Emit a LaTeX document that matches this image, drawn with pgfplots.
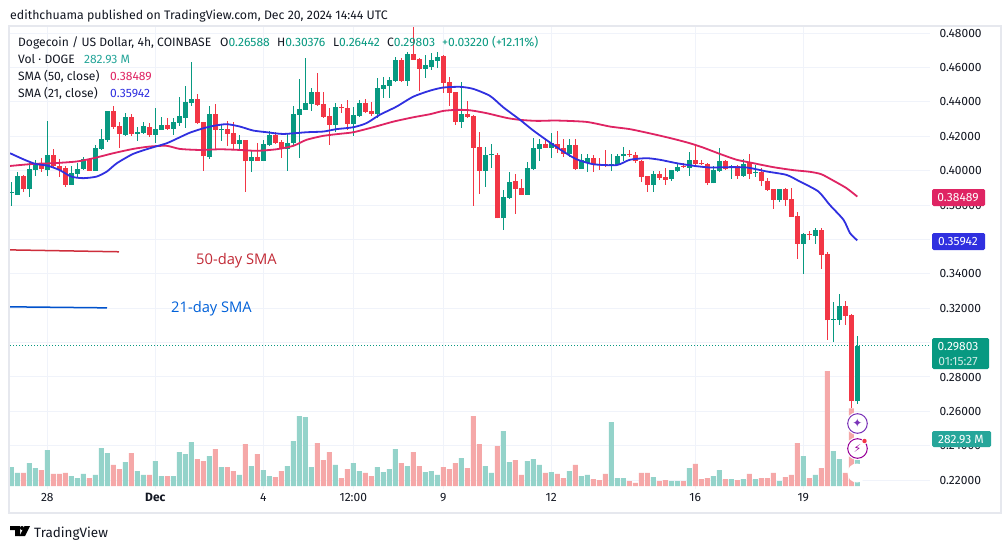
\documentclass[border=0pt]{standalone}
\usepackage{pgfplots}
\usepackage{pgfplotstable}
\usepackage{fontspec}
\pgfplotsset{compat=1.18}
\setmainfont{Fira Sans}
\newfontfamily\symfont{DejaVu Sans}
\newfontfamily\notefont{Open Sans}

\definecolor{cgreen}{HTML}{089981}
\definecolor{cred}{HTML}{F23645}
\definecolor{vgreen}{HTML}{94D3CA}
\definecolor{vred}{HTML}{F5A8A8}
\definecolor{smaf}{HTML}{DF2463}
\definecolor{smat}{HTML}{3030E0}
\definecolor{gridc}{HTML}{F0F3FA}
\definecolor{framec}{HTML}{E6E8EE}
\definecolor{inkc}{HTML}{131722}
\definecolor{legteal}{HTML}{26A69A}

% i low bodybottom bodytop high volume(M)
\pgfplotstableread{
i l b t h v
0 0.3795 0.3869 0.3875 0.3931 207
1 0.3859 0.3859 0.3969 0.3991 142
3 0.3849 0.3894 0.4010 0.4043 250
4 0.3969 0.4004 0.4043 0.4062 196
6 0.3969 0.4004 0.4091 0.4289 392
10 0.3917 0.3917 0.3985 0.4029 109
11 0.3956 0.3981 0.4010 0.4043 87
12 0.4004 0.4010 0.4070 0.4078 131
14 0.3998 0.3998 0.4132 0.4151 120
15 0.4120 0.4126 0.4184 0.4244 414
16 0.4169 0.4178 0.4347 0.4347 359
19 0.4202 0.4209 0.4312 0.4333 261
21 0.4175 0.4215 0.4225 0.4256 163
22 0.4217 0.4221 0.4260 0.4285 120
24 0.4163 0.4209 0.4240 0.4362 272
25 0.4237 0.4237 0.4266 0.4310 109
27 0.4207 0.4244 0.4283 0.4304 109
28 0.4262 0.4277 0.4318 0.4430 370
29 0.4250 0.4306 0.4399 0.4492 348
30 0.4376 0.4392 0.4417 0.4632 479
33 0.4066 0.4078 0.4330 0.4376 327
35 0.4173 0.4237 0.4241 0.4271 207
38 0.4116 0.4155 0.4178 0.4207 120
40 0.3994 0.4053 0.4080 0.4120 218
42 0.4056 0.4056 0.4155 0.4178 174
43 0.4146 0.4147 0.4207 0.4231 109
46 0.4000 0.4128 0.4159 0.4217 218
47 0.4150 0.4159 0.4330 0.4376 490
48 0.4076 0.4324 0.4359 0.4531 762
49 0.4353 0.4353 0.4392 0.4655 751
50 0.4349 0.4388 0.4458 0.4479 207
54 0.4227 0.4266 0.4368 0.4392 229
57 0.4204 0.4272 0.4322 0.4368 250
58 0.4314 0.4318 0.4392 0.4411 163
61 0.4305 0.4330 0.4479 0.4537 207
62 0.4421 0.4475 0.4498 0.4547 152
63 0.4421 0.4494 0.4527 0.4547 185
64 0.4516 0.4521 0.4644 0.4659 403
66 0.4494 0.4521 0.4678 0.4688 218
69 0.4537 0.4593 0.4615 0.4673 152
70 0.4585 0.4603 0.4644 0.4682 163
71 0.4595 0.4640 0.4661 0.4692 120
75 0.4250 0.4285 0.4330 0.4516 305
79 0.3902 0.4000 0.4092 0.4140 218
80 0.4014 0.4088 0.4094 0.4155 142
82 0.3652 0.3722 0.3846 0.3888 599
83 0.3838 0.3842 0.3933 0.3993 261
86 0.3859 0.3859 0.4016 0.4051 272
87 0.4004 0.4010 0.4132 0.4188 294
88 0.4053 0.4128 0.4155 0.4186 229
90 0.4072 0.4132 0.4159 0.4217 152
93 0.4078 0.4099 0.4150 0.4183 163
95 0.4010 0.4010 0.4059 0.4097 109
96 0.3989 0.4047 0.4074 0.4097 120
100 0.3995 0.4034 0.4038 0.4096 697
101 0.4030 0.4030 0.4086 0.4096 87
102 0.4053 0.4082 0.4097 0.4136 87
107 0.3873 0.3917 0.3981 0.3997 98
110 0.3942 0.3952 0.4001 0.4004 54
111 0.3989 0.3995 0.4022 0.4043 54
113 0.3971 0.4016 0.4063 0.4109 196
117 0.3925 0.3925 0.4001 0.4024 109
118 0.3991 0.3995 0.4057 0.4130 174
120 0.3952 0.4022 0.4028 0.4034 76
122 0.3970 0.3971 0.4039 0.4066 76
124 0.3960 0.3985 0.3991 0.4034 76
128 0.3820 0.3830 0.3892 0.3894 54
132 0.3400 0.3574 0.3633 0.3636 327
134 0.3574 0.3621 0.3656 0.3666 120
137 0.3001 0.3133 0.3139 0.3234 381
138 0.3104 0.3133 0.3214 0.3284 294
141 0.26442 0.26588 0.29803 0.30376 283
}\upc

\pgfplotstableread{
i l b t h v
2 0.3878 0.3892 0.3969 0.3975 142
5 0.3994 0.4008 0.4043 0.4072 174
7 0.4014 0.4024 0.4091 0.4126 131
8 0.3965 0.4004 0.4027 0.4066 131
9 0.3907 0.3917 0.4014 0.4029 142
13 0.3998 0.3998 0.4070 0.4070 87
17 0.4240 0.4254 0.4347 0.4376 229
18 0.4130 0.4213 0.4260 0.4285 185
20 0.4202 0.4213 0.4312 0.4330 359
23 0.4198 0.4206 0.4254 0.4279 120
26 0.4237 0.4242 0.4266 0.4304 109
31 0.4271 0.4275 0.4417 0.4446 294
32 0.3998 0.4082 0.4281 0.4285 272
34 0.4120 0.4238 0.4330 0.4388 403
36 0.4144 0.4213 0.4240 0.4291 207
37 0.4120 0.4155 0.4217 0.4285 163
39 0.3878 0.4053 0.4178 0.4178 457
41 0.4056 0.4056 0.4080 0.4163 348
44 0.4155 0.4159 0.4207 0.4227 98
45 0.4072 0.4124 0.4167 0.4178 163
51 0.4376 0.4382 0.4458 0.4566 468
52 0.4308 0.4312 0.4388 0.4458 283
53 0.4150 0.4266 0.4318 0.4363 370
55 0.4337 0.4365 0.4369 0.4388 87
56 0.4237 0.4272 0.4365 0.4411 185
59 0.4339 0.4343 0.4392 0.4415 142
60 0.4318 0.4330 0.4347 0.4401 109
65 0.4516 0.4521 0.4644 0.4653 250
67 0.4644 0.4644 0.4678 0.4833 370
68 0.4460 0.4593 0.4649 0.4653 218
72 0.4450 0.4512 0.4667 0.4673 207
73 0.4376 0.4454 0.4516 0.4543 185
74 0.4266 0.4285 0.4458 0.4458 250
76 0.4310 0.4314 0.4330 0.4405 196
77 0.3795 0.4134 0.4318 0.4324 762
78 0.3865 0.4000 0.4138 0.4223 457
81 0.3722 0.3722 0.4092 0.4101 436
84 0.3749 0.3894 0.3939 0.3981 283
85 0.3859 0.3859 0.3900 0.3950 120
89 0.4132 0.4132 0.4155 0.4183 142
91 0.4101 0.4126 0.4155 0.4233 131
92 0.4078 0.4099 0.4130 0.4183 87
94 0.4004 0.4010 0.4150 0.4183 229
97 0.3993 0.4037 0.4074 0.4091 76
98 0.4004 0.4034 0.4039 0.4074 65
99 0.4020 0.4032 0.4037 0.4121 131
103 0.4078 0.4088 0.4099 0.4117 54
104 0.4047 0.4053 0.4091 0.4107 33
105 0.3931 0.3964 0.4057 0.4059 142
106 0.3873 0.3919 0.3970 0.3970 142
108 0.3946 0.3958 0.3981 0.3995 54
109 0.3917 0.3948 0.3964 0.4014 65
112 0.4014 0.4022 0.4028 0.4043 54
114 0.4034 0.4037 0.4063 0.4144 240
115 0.4030 0.4037 0.4043 0.4059 76
116 0.3917 0.3925 0.4039 0.4043 87
119 0.4001 0.4010 0.4057 0.4063 76
121 0.3952 0.3970 0.4028 0.4032 65
123 0.3952 0.3983 0.4043 0.4097 131
125 0.3908 0.3937 0.3989 0.4014 87
126 0.3884 0.3888 0.3941 0.3956 87
127 0.3778 0.3830 0.3892 0.3894 142
129 0.3795 0.3830 0.3894 0.3898 98
130 0.3733 0.3733 0.3836 0.3898 120
131 0.3487 0.3576 0.3737 0.3758 468
133 0.3598 0.3625 0.3633 0.3646 87
135 0.3429 0.3511 0.3656 0.3666 196
136 0.3017 0.3129 0.3516 0.3526 1252
139 0.3104 0.3156 0.3214 0.3243 142
140 0.2621 0.2659 0.3162 0.3166 846
}\dnc

\pgfplotsset{
  pane/.style={
    anchor=south west, scale only axis, width=920pt,
    xmin=-0.2167, xmax=153.12,
  },
  bodybar/.style={draw=none, mark=none, error bars/.cd, y dir=plus, y explicit, error mark=none,
    error bar style={line width=4.8pt, draw=#1}},
  wickbar/.style={draw=none, mark=none, error bars/.cd, y dir=both, y explicit, error mark=none,
    error bar style={line width=1pt, draw=#1}},
}

\begin{document}
\begin{tikzpicture}[x=1pt,y=-1pt]
\path[use as bounding box, fill=white] (0,0) rectangle (1005,549);
\draw[framec, line width=2pt] (9,26) rectangle (1001,513);

% grid, labels, price line and the hand drawn notes
\begin{axis}[pane, at={(10pt,-489pt)}, height=462pt,
  ymin=0.21488, ymax=0.48349,
  axis line style={draw=none}, tick style={draw=none},
  grid=major, grid style={gridc, line width=1pt},
  xtick={6,24,42,57,72,90,114,132},
  xticklabels={28,\textbf{Dec},4,12:00,9,12,16,19},
  ytick={0.22,0.24,0.26,0.28,0.30,0.32,0.34,0.36,0.38,0.40,0.42,0.44,0.46,0.48},
  yticklabels={0.22000,0.24000,0.26000,0.28000,,0.32000,0.34000,0.36000,0.38000,0.40000,0.42000,0.44000,0.46000,0.48000},
  ymajorgrids=true, yticklabel pos=right,
  yticklabel style={anchor=west, xshift=6pt, font=\fontsize{12}{12}\selectfont, text=inkc},
  xticklabel style={font=\fontsize{12}{12}\selectfont, text=inkc, yshift=-1pt},
]
\addplot[cgreen, line width=1pt, dotted, forget plot] coordinates {(-0.2167,0.29803) (153.12,0.29803)};
\addplot[draw=cred!85!black, line width=1.5pt] coordinates {(-0.2167,0.3539) (17.95,0.3528)};
\addplot[draw=blue!60!cyan!80!black, line width=1.5pt] coordinates {(-0.2167,0.3208) (15.95,0.3202)};
\end{axis}

% volume pane: 10.9 M per pixel
\begin{axis}[pane, at={(10pt,-486pt)}, height=200pt, ymin=0, ymax=2180, hide axis]
\addplot[ybar, bar width=5pt, bar shift=0pt, draw=none, fill=vgreen] table[x=i,y=v] {\upc};
\addplot[ybar, bar width=5pt, bar shift=0pt, draw=none, fill=vred] table[x=i,y=v] {\dnc};
\end{axis}

% candles and moving averages
\begin{axis}[pane, at={(10pt,-489pt)}, height=462pt, ymin=0.21488, ymax=0.48349, hide axis]
\addplot[wickbar=cgreen] table[x=i,y=b,y error plus expr=\thisrow{h}-\thisrow{b},y error minus expr=\thisrow{b}-\thisrow{l}] {\upc};
\addplot[bodybar=cgreen] table[x=i,y=b,y error plus expr=\thisrow{t}-\thisrow{b}] {\upc};
\addplot[wickbar=cred] table[x=i,y=b,y error plus expr=\thisrow{h}-\thisrow{b},y error minus expr=\thisrow{b}-\thisrow{l}] {\dnc};
\addplot[bodybar=cred] table[x=i,y=b,y error plus expr=\thisrow{t}-\thisrow{b}] {\dnc};
% SMA 50
\addplot[smaf, line width=1.8pt, smooth, tension=0.4] coordinates {
(-0.2,0.4027) (3.7,0.4039) (7,0.4043) (10.9,0.4053) (13.7,0.4072) (17,0.4101) (20.3,0.4126)
(23.1,0.4140) (25.9,0.4144) (28.1,0.4126) (31.4,0.4120) (34.8,0.4124) (38.1,0.4120) (40.9,0.4115)
(44.2,0.4124) (47,0.4144) (49.2,0.4179) (52,0.4202) (54.8,0.4214) (57,0.4223) (60.3,0.4252)
(63.7,0.4285) (67,0.4310) (69.8,0.4328) (72,0.4347) (74.2,0.4353) (76.4,0.4351) (79.2,0.4334)
(82.6,0.4306) (84.8,0.4295) (87.6,0.4289) (90.9,0.4291) (95.9,0.4283) (99.8,0.4256) (103.1,0.4241)
(107,0.4212) (110.3,0.4185) (113.1,0.4159) (115.3,0.4134) (118.1,0.4097) (120.9,0.4063)
(123.7,0.4043) (127,0.4020) (130.3,0.4003) (133.1,0.3993) (135,0.3979) (137,0.3942) (139.2,0.3898)
(141,0.38489)};
% SMA 21
\addplot[smat, line width=1.8pt, smooth, tension=0.4] coordinates {
(-0.2,0.4101) (2,0.4066) (4,0.4039) (6,0.4029) (8,0.4004) (10,0.3965) (12,0.3956) (14.2,0.3965)
(15.9,0.3994) (17.6,0.4043) (20.3,0.4097) (23.1,0.4130) (25.9,0.4159) (28.1,0.4194) (29.8,0.4221)
(32,0.4246) (33.7,0.4260) (35.9,0.4270) (38.1,0.4256) (40.3,0.4233) (42.6,0.4223) (45.3,0.4213)
(49.2,0.4223) (52,0.4227) (54.2,0.4241) (57,0.4252) (59.2,0.4276) (61.4,0.4324) (64.2,0.4372)
(67,0.4430) (69.8,0.4465) (72,0.4483) (74.8,0.4487) (77,0.4475) (79.8,0.4434) (82,0.4368)
(84.8,0.4295) (87,0.4233) (89.8,0.4163) (92,0.4111) (94.2,0.4066) (97,0.4037) (100.9,0.4032)
(103.1,0.4063) (105.9,0.4072) (108.1,0.4063) (110.9,0.4043) (113.7,0.4028) (116.4,0.4018)
(119.2,0.4020) (122.6,0.4018) (125.9,0.3995) (129.2,0.3975) (131.4,0.3937) (134.5,0.3879)
(136.4,0.3801) (138.7,0.3714) (139.8,0.3636) (141,0.35942)};
\end{axis}

% texts above the panes
\begin{scope}[every node/.style={inner sep=0pt, anchor=base west, text=inkc, font=\fontsize{12.1}{12.1}\selectfont}]
\node[font=\fontsize{12.35}{12.35}\selectfont] at (10,19) {edithchuama published on TradingView.com, Dec 20, 2024 14:44 UTC};
\node at (18,46) {Dogecoin / US Dollar, 4h, COINBASE};
\node at (220,46) {O\textcolor{cgreen}{0.26588}};
\node at (277,46) {H\textcolor{cgreen}{0.30376}};
\node at (333,46) {L\textcolor{cgreen}{0.26442}};
\node at (387,46) {C\textcolor{cgreen}{0.29803}};
\node at (442,46) {\textcolor{cgreen}{+0.03220 (+12.11\%)}};
\node at (18,63) {Vol · DOGE};
\node at (84,63) {\textcolor{legteal}{282.93 M}};
\node at (18,80) {SMA (50, close)};
\node at (110,80) {\textcolor{smaf}{0.38489}};
\node at (18,97) {SMA (21, close)};
\node at (110,97) {\textcolor{smat}{0.35942}};
\node[font=\fontsize{13.5}{13.5}\selectfont] at (34,537) {TradingView};
\end{scope}

\node[inner sep=0pt, anchor=west, text=cred!80!black, font=\notefont\fontsize{14.7}{14.7}\selectfont] at (196,261) {50-day SMA};
\node[inner sep=0pt, anchor=west, text=blue!55!cyan!85!black, font=\notefont\fontsize{14.7}{14.7}\selectfont] at (171,308.5) {21-day SMA};

% price tags
\begin{scope}[every node/.style={inner sep=0pt, text=white, font=\fontsize{12}{14}\selectfont}]
\fill[smaf, rounded corners=1.5pt] (932,189) rectangle (985,206);
\node at (958,197.5) {0.38489};
\fill[smat, rounded corners=1.5pt] (932,233) rectangle (985,250);
\node at (958,241.5) {0.35942};
\fill[cgreen, rounded corners=1.5pt] (932,338) rectangle (989,369);
\node at (958,347) {0.29803};
\node at (958,361) {\textcolor{white!80!cgreen}{01:15:27}};
\fill[legteal, rounded corners=1.5pt] (932,431) rectangle (991,447);
\node at (961,439) {282.93 M};
\end{scope}

% chart buttons
\fill[white] (857,473) circle (9.5);
\fill[white] (857.5,423.5) circle (11.5);
\fill[white] (857.5,448.5) circle (11.5);
\draw[violet!70!blue!80!white, line width=1pt] (857.5,423.5) circle (9.8);
\node[inner sep=0pt, text=violet!70!blue!80!white, font=\symfont\fontsize{12}{12}\selectfont] at (857.5,423.5) {✦};
\draw[violet!80!magenta, line width=1pt] (857.5,448.5) circle (9.8);
\node[inner sep=0pt, text=violet!80!magenta, font=\symfont\fontsize{11}{11}\selectfont] at (857.5,448.5) {⚡};
\fill[white] (864.5,441) circle (3.2);
\fill[cred] (864.5,441) circle (2.2);

% logo
\fill[black] (10,526) -- (20,526) -- (20,536) -- (15,536) -- (15,530) -- (10,530) -- cycle;
\fill[black] (22,528) circle (2);
\fill[black] (24.5,526) -- (30,526) -- (25,536) -- (19.5,536) -- cycle;
\end{tikzpicture}
\end{document}
